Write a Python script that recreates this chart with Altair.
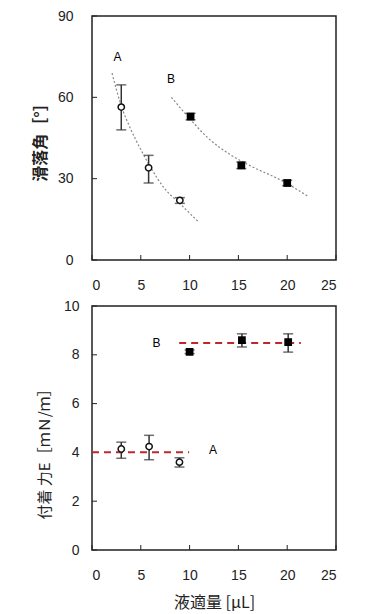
import altair as alt
import pandas as pd

# ---------------- data ----------------
# Top panel: sliding angle
a_top_x = [3.0, 5.8, 9.0]
a_top_y = [56.4, 34.0, 22.0]
a_top_lo = [48.0, 28.4, 20.9]
a_top_hi = [64.6, 38.6, 23.0]
b_top_x = [10.1, 15.3, 20.0]
b_top_y = [52.9, 34.9, 28.4]
b_top_lo = [51.7, 33.7, 27.4]
b_top_hi = [54.1, 36.1, 29.4]

curve_a_x = [2.05, 2.97, 4.0, 5.02, 6.05, 7.41, 8.95, 10.93]
curve_a_y = [68.9, 57.2, 48.0, 40.6, 33.9, 26.5, 21.0, 14.0]
curve_b_x = [8.13, 9.66, 11.89, 14.2, 15.98, 19.74, 22.13]
curve_b_y = [60.0, 53.6, 45.0, 38.8, 35.2, 28.7, 23.5]

# Bottom panel: adhesion force
a_bot_x = [3.0, 5.85, 8.96]
a_bot_y = [4.14, 4.24, 3.60]
a_bot_lo = [3.76, 3.70, 3.40]
a_bot_hi = [4.42, 4.70, 3.78]
b_bot_x = [10.0, 15.36, 20.1]
b_bot_y = [8.12, 8.60, 8.52]
b_bot_lo = [8.05, 8.32, 8.11]
b_bot_hi = [8.20, 8.86, 8.86]

mean_a_x = [0.0, 9.95]
mean_a_y = [4.01, 4.01]
mean_b_x = [8.93, 21.4]
mean_b_y = [8.48, 8.48]

top_ticks = [0, 30, 60, 90]
bot_ticks = [0, 2, 4, 6, 8, 10]
x_ticks = [0, 5, 10, 15, 20, 25]

top_labels = ["A", "B"]
top_label_x = [2.6, 8.1]
top_label_y = [74.7, 66.7]
bot_labels = ["B", "A"]
bot_label_x = [6.6, 12.4]
bot_label_y = [8.49, 4.08]

W, H = 244, 244
NUM_FONT = "Liberation Sans"
JP_FONT = "Noto Sans CJK JP"


def pts(xs, ys, lo=None, hi=None):
    d = {"x": xs, "y": ys}
    if lo is not None:
        d["lo"] = lo
        d["hi"] = hi
    return pd.DataFrame(d)


def panel(ymax, yticks, ytitle, ytitle_x, ytitle_y, ytitle_size, ytitle_weight,
          ylabel_pad, xtitle, a_df, b_df, curves, means, labels):
    xs = alt.Scale(domain=[0, 25], nice=False)
    ys = alt.Scale(domain=[0, ymax], nice=False)
    xaxis_kw = dict(values=x_ticks, tickSize=0, labelPadding=18, labelFontSize=14,
                    labelFont=NUM_FONT, labelColor="#222", domain=False, grid=False)
    if xtitle:
        xaxis = alt.Axis(title=xtitle, titleFont=JP_FONT, titleFontSize=16,
                         titleFontWeight="normal", titleColor="#222",
                         titleX=W / 2, titleY=52, titleBaseline="middle",
                         titleAlign="center", **xaxis_kw)
    else:
        xaxis = alt.Axis(title=None, **xaxis_kw)
    yaxis = alt.Axis(values=yticks, tickSize=0, labelPadding=ylabel_pad,
                     labelFontSize=14, labelFont=NUM_FONT, labelColor="#222",
                     domain=False, grid=False, title=ytitle, titleFont=JP_FONT,
                     titleFontSize=ytitle_size, titleFontWeight=ytitle_weight,
                     titleColor="#222", titleX=ytitle_x, titleY=ytitle_y,
                     titleAngle=-90, titleAlign="center", titleBaseline="middle")

    X = alt.X("x:Q", scale=xs, axis=xaxis)
    Y = alt.Y("y:Q", scale=ys, axis=yaxis)
    Xn = alt.X("x:Q", scale=xs)
    Yn = alt.Y("y:Q", scale=ys)

    layers = []
    # inward ticks
    yt = pd.DataFrame({"y": yticks})
    layers.append(alt.Chart(yt).mark_rule(color="#222", strokeWidth=1).encode(
        y=Y, x=alt.value(0), x2=alt.value(5)))
    xt = pd.DataFrame({"x": x_ticks})
    layers.append(alt.Chart(xt).mark_rule(color="#222", strokeWidth=1).encode(
        x=X, y=alt.value(H), y2=alt.value(H - 5)))

    for cdf in curves:
        layers.append(alt.Chart(cdf).mark_line(
            color="#888", strokeWidth=1.2, strokeDash=[2, 2],
            interpolate="monotone").encode(x=Xn, y=Yn))
    for mdf in means:
        layers.append(alt.Chart(mdf).mark_line(
            color="#c0272d", strokeWidth=2, strokeDash=[7, 5]).encode(x=Xn, y=Yn))

    for df in (a_df, b_df):
        layers.append(alt.Chart(df).mark_rule(color="#333", strokeWidth=1.5).encode(
            x=Xn, y=alt.Y("lo:Q", scale=ys), y2="hi:Q"))
        for col in ("lo", "hi"):
            layers.append(alt.Chart(df).mark_tick(
                color="#333", orient="horizontal", size=10, thickness=1.5).encode(
                x=Xn, y=alt.Y(col + ":Q", scale=ys)))
    layers.append(alt.Chart(a_df).mark_point(
        shape="circle", size=40, filled=True, fill="white", stroke="#111",
        strokeWidth=1.5, opacity=1).encode(x=Xn, y=Yn))
    layers.append(alt.Chart(b_df).mark_square(
        size=60, color="#000", opacity=1).encode(x=Xn, y=Yn))

    layers.append(alt.Chart(labels).mark_text(
        font=NUM_FONT, fontSize=12, color="#000").encode(x=Xn, y=Yn, text="t:N"))

    return alt.layer(*layers).properties(width=W, height=H)


top = panel(
    90, top_ticks, "滑落角［°］", -52, H / 2, 16, "bold", 19, None,
    pts(a_top_x, a_top_y, a_top_lo, a_top_hi),
    pts(b_top_x, b_top_y, b_top_lo, b_top_hi),
    [pts(curve_a_x, curve_a_y), pts(curve_b_x, curve_b_y)],
    [],
    pd.DataFrame({"x": top_label_x, "y": top_label_y, "t": top_labels}),
)

bottom = panel(
    10, bot_ticks, "付着 力E［ｍＮ/ｍ］", -48, H / 2 + 22, 15, "normal", 13,
    "液適量 [μL]",
    pts(a_bot_x, a_bot_y, a_bot_lo, a_bot_hi),
    pts(b_bot_x, b_bot_y, b_bot_lo, b_bot_hi),
    [],
    [pts(mean_a_x, mean_a_y), pts(mean_b_x, mean_b_y)],
    pd.DataFrame({"x": bot_label_x, "y": bot_label_y, "t": bot_labels}),
)

chart = alt.vconcat(top, bottom, spacing=46, bounds="flush").properties(
    padding={"left": 23, "top": 0, "right": 5, "bottom": 0},
    background="white",
).configure_view(stroke="#222", strokeWidth=1.5)

chart.save("out.html", embed_options={"renderer": "svg", "actions": False})
